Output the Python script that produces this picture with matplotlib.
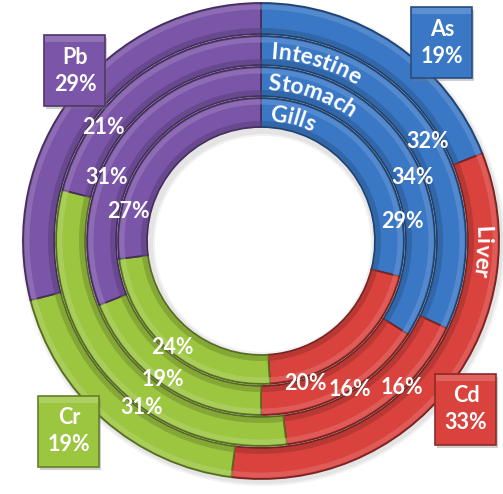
import math
import matplotlib
matplotlib.use("Agg")
import matplotlib.pyplot as plt
from matplotlib.patches import FancyBboxPatch, Wedge
from matplotlib.font_manager import FontProperties
import matplotlib.colors as mcolors
import numpy as np

# ---------------- data ----------------
categories = ["As", "Cd", "Cr", "Pb"]
ring_names = ["Liver", "Intestine", "Stomach", "Gills"]
liver = [19, 33, 19, 29]
intestine = [32, 16, 31, 21]
stomach = [34, 16, 19, 31]
gills = [29, 20, 24, 27]
ring_values = [liver, intestine, stomach, gills]

# ---------------- style ----------------
colors = ["#3a78c6", "#d9423d", "#9cc540", "#7b55a8"]
W, H = 503, 494
cx, cy = 261, H - 241
ring_radii = [(207, 238), (176, 205), (145, 174), (114, 143)]
FONT = "Lato"

fig = plt.figure(figsize=(W / 100, H / 100), dpi=100)
ax = fig.add_axes([0, 0, 1, 1])


def shade(c, f):
    r, g, b = mcolors.to_rgb(c)
    if f >= 0:
        return (r + (1 - r) * f, g + (1 - g) * f, b + (1 - b) * f)
    return (r * (1 + f), g * (1 + f), b * (1 + f))


# soft shadow behind the whole donut
for k, a in [(4, 0.10), (2, 0.12)]:
    ax.add_patch(Wedge((cx + 2, cy - 3), 238 + k, 0, 360, width=238 + 2 * k - 112,
                       facecolor="#808080", alpha=a, lw=0))

for vals, (ri, ro) in zip(ring_values, ring_radii):
    wedges, _ = ax.pie(vals, radius=ro, center=(cx, cy), startangle=90,
                       counterclock=False, colors=colors,
                       wedgeprops=dict(width=ro - ri, linewidth=1.3))
    for w, c in zip(wedges, colors):
        w.set_edgecolor(shade(c, -0.45))
    # highlight band near the outer edge
    ax.pie(vals, radius=ro - 1.5, center=(cx, cy), startangle=90,
           counterclock=False, colors=[shade(c, 0.25) for c in colors],
           wedgeprops=dict(width=5, linewidth=0, alpha=0.55))
    # darker band near inner edge
    ax.pie(vals, radius=ri + 6, center=(cx, cy), startangle=90,
           counterclock=False, colors=[shade(c, -0.25) for c in colors],
           wedgeprops=dict(width=5, linewidth=0, alpha=0.6))

ax.set_xlim(0, W)
ax.set_ylim(0, H)
ax.set_aspect("equal")
ax.axis("off")

renderer = fig.canvas.get_renderer()


def curved_text(s, r, theta_start, fs):
    prop = FontProperties(family=FONT, weight="bold", size=fs)
    widths = [renderer.get_text_width_height_descent(ch, prop, ismath=False)[0] for ch in s]
    pos = 0.0
    for ch, w in zip(s, widths):
        mid = pos + w / 2
        th = math.radians(theta_start) - mid / r
        x = cx + r * math.cos(th)
        y = cy + r * math.sin(th)
        ax.text(x, y, ch, rotation=math.degrees(th) - 90, ha="center", va="baseline",
                rotation_mode="anchor", color="white", fontproperties=prop, zorder=10)
        pos += w


# ring names along the rings
name_start = {"Liver": 4.0, "Intestine": 87.0, "Stomach": 87.5, "Gills": 86.0}
for name, (ri, ro) in zip(ring_names, ring_radii):
    rb = (ri + ro) / 2 - 8
    curved_text(name, rb, name_start[name], 16.5)

# percentage labels of the inner rings (pixel positions, y down)
label_pos = {
    "Intestine": [(428, 142), (402, 388), (142, 407), (103, 127)],
    "Stomach": [(413, 177), (350, 390), (163, 380), (107, 177)],
    "Gills": [(402, 222), (305, 383), (172, 348), (128, 212)],
}
for name, vals in zip(ring_names[1:], ring_values[1:]):
    for v, (px, py) in zip(vals, label_pos[name]):
        ax.text(px, H - py, f"{v}%", ha="center", va="center", color="white",
                fontsize=15.5, fontweight="bold", family=FONT, zorder=10)

# category boxes for the outer ring
box_pos = [(442, 43), (466, 409), (69, 431), (75, 71)]
bw, bh = 61, 71
for cat, v, c, (px, py) in zip(categories, liver, colors, box_pos):
    x0, y0 = px - bw / 2, H - py - bh / 2
    ax.add_patch(FancyBboxPatch((x0 + 2, y0 - 3), bw, bh, boxstyle="square,pad=0",
                                facecolor="#777777", alpha=0.35, lw=0, zorder=8))
    ax.add_patch(FancyBboxPatch((x0, y0), bw, bh, boxstyle="square,pad=0",
                                facecolor=c, edgecolor=shade(c, -0.35), lw=1.2, zorder=9))
    ax.add_patch(FancyBboxPatch((x0 + 1, y0 + bh - 7), bw - 2, 6, boxstyle="square,pad=0",
                                facecolor=shade(c, 0.3), alpha=0.6, lw=0, zorder=9))
    ax.text(px, H - py, f"{cat}\n{v}%", ha="center", va="center", color="white",
            fontsize=15.5, fontweight="bold", family=FONT, linespacing=1.3, zorder=10)

fig.savefig("out.png", dpi=100)
